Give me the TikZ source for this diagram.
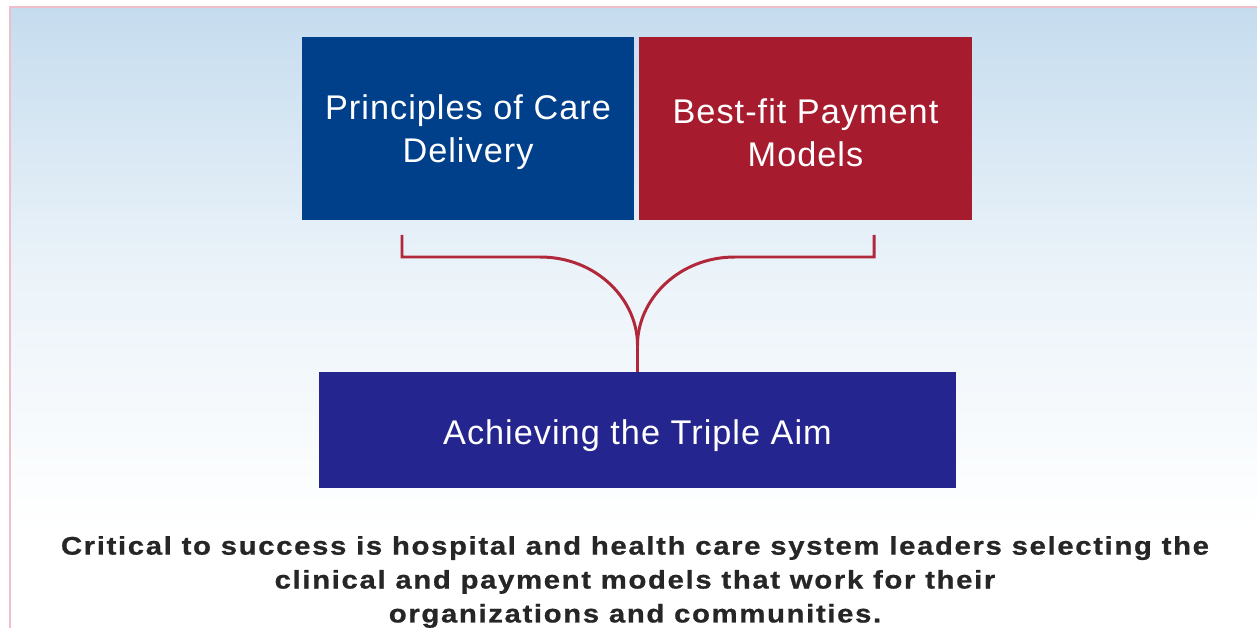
\documentclass[tikz,border=0pt]{standalone}
\usepackage{fontspec}
\setmainfont{Liberation Sans}
\usetikzlibrary{calc}
\usetikzlibrary{positioning}
\definecolor{careblue}{RGB}{0,63,138}
\definecolor{payred}{RGB}{166,28,46}
\definecolor{aimblue}{RGB}{37,37,143}
\definecolor{linkred}{RGB}{176,40,58}
\definecolor{skyblue}{RGB}{197,220,238}
\definecolor{edgepink}{RGB}{240,190,200}
\tikzset{%
  mybox/.style={draw=none, text=white, align=center, inner sep=0pt,
    font=\fontsize{19.5}{24.5}\selectfont\addfontfeatures{LetterSpace=3}},
  mytop/.style={mybox, text height=43pt, minimum width=332*0.02cm, minimum height=183*0.02cm},
  mylink/.style={draw=linkred, line width=1.7pt},
  mynote/.style={align=center, inner sep=0pt, text=black!85,
    font=\fontsize{14.5}{19.3}\selectfont\bfseries\addfontfeatures{FakeStretch=1.15,LetterSpace=6.5,FakeBold=0.8}}
}
\begin{document}
\begin{tikzpicture}[x=0.02cm, y=-0.02cm]
  \useasboundingbox (0,0) rectangle (1257,628);
  \shade[top color=skyblue, bottom color=white, middle color=skyblue!35] (10,7) rectangle (1257,530);
  \fill[white] (10,530) rectangle (1257,628);
  \draw[edgepink, line width=0.8pt] (10,628) -- (10,7) -- (1257,7);
  \node[mytop, fill=careblue] (care) at (468,128.5) {Principles of Care\\Delivery};
  \node[mytop, fill=payred, minimum width=333*0.02cm] (pay) at (805.5,128.5) {Best-fit Payment\\Models};
  \node[mybox, fill=aimblue, text height=20pt, minimum width=637*0.02cm, minimum height=116*0.02cm] (aim) at (637.5,430) {Achieving the Triple Aim};
  \coordinate (lend) at (402,235);
  \coordinate (rend) at (874,235);
  \coordinate (meet) at (637.5,345);
  \draw[mylink] (lend) -- (402,257) -- (540,257) .. controls (597,257) and (637.5,300) .. (meet);
  \draw[mylink] (rend) -- (874,257) -- (735,257) .. controls (678,257) and (637.5,300) .. (meet);
  \draw[mylink] (meet) -- (aim.north);
  \node[mynote] (note) at (635,582) {Critical to success is hospital and health care system leaders selecting the\\clinical and payment models that work for their\\organizations and communities.};
\end{tikzpicture}
\end{document}
